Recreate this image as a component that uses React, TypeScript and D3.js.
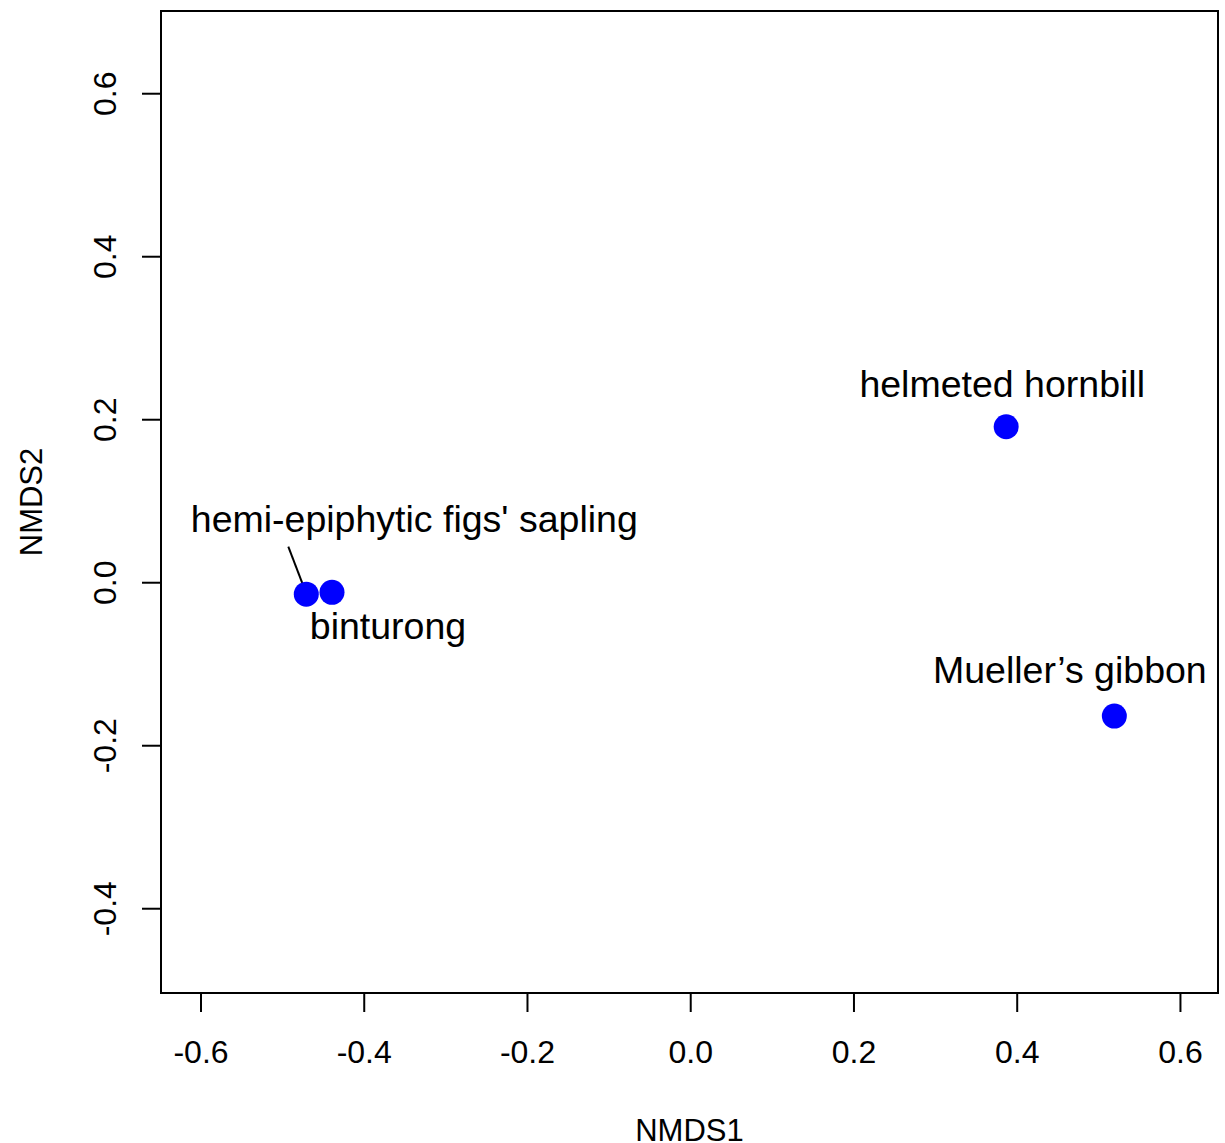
import React from "react";
import * as d3 from "d3";

const species = ["hemi-epiphytic figs' sapling", "binturong", "helmeted hornbill", "Mueller\u2019s gibbon"];
const nmds1 = [-0.471, -0.4395, 0.3865, 0.519];
const nmds2 = [-0.014, -0.0118, 0.1914, -0.1636];
const xTicks = [-0.6, -0.4, -0.2, 0.0, 0.2, 0.4, 0.6];
const yTicks = [-0.4, -0.2, 0.0, 0.2, 0.4, 0.6];

// label placement offsets (px) relative to each point
const labelOffsets = [
  { dx: 108, dy: -62 },
  { dx: 56, dy: 47 },
  { dx: -4, dy: -30 },
  { dx: -44.5, dy: -33 },
];

const W = 1225;
const H = 1143;
const left = 161, right = 1218, top = 11, bottom = 993;

export default function App() {
  const x = d3.scaleLinear().domain([-0.649, 0.646]).range([left, right]);
  const y = d3.scaleLinear().domain([0.7015, -0.5034]).range([top, bottom]);
  const font = "'Liberation Sans', Arial, sans-serif";
  const fmt = (v: number) => d3.format(".1f")(v).replace("\u2212", "-");
  const p0x = x(nmds1[0]);
  const p0y = y(nmds2[0]);
  return (
    <svg width={W} height={H} style={{ position: "absolute", left: 0, top: 0, background: "#fff" }} fontFamily={font}>
      <rect x={left} y={top} width={right - left} height={bottom - top} fill="none" stroke="#000" strokeWidth={2} />
      {xTicks.map((t) => (
        <g key={"x" + t}>
          <line x1={x(t)} x2={x(t)} y1={bottom} y2={bottom + 19} stroke="#000" strokeWidth={2} />
          <text x={x(t)} y={1063} fontSize={32} textAnchor="middle" fill="#000">{fmt(t)}</text>
        </g>
      ))}
      {yTicks.map((t) => (
        <g key={"y" + t}>
          <line x1={left - 19} x2={left} y1={y(t)} y2={y(t)} stroke="#000" strokeWidth={2} />
          <text transform={`translate(116,${y(t)}) rotate(-90)`} fontSize={32} textAnchor="middle" fill="#000">{fmt(t)}</text>
        </g>
      ))}
      <text x={(left + right) / 2} y={1141} fontSize={31} textAnchor="middle" fill="#000">NMDS1</text>
      <text transform={`translate(42,${(top + bottom) / 2}) rotate(-90)`} fontSize={31} textAnchor="middle" fill="#000">NMDS2</text>
      <line x1={288.3} y1={546.7} x2={p0x - 4} y2={p0y - 11} stroke="#000" strokeWidth={2} />
      {species.map((s, i) => (
        <circle key={"p" + i} cx={x(nmds1[i])} cy={y(nmds2[i])} r={12.5} fill="#0000ff" />
      ))}
      {species.map((s, i) => (
        <text key={"l" + i} x={x(nmds1[i]) + labelOffsets[i].dx} y={y(nmds2[i]) + labelOffsets[i].dy} fontSize={37.5} textAnchor="middle" fill="#000">{s}</text>
      ))}
    </svg>
  );
}
